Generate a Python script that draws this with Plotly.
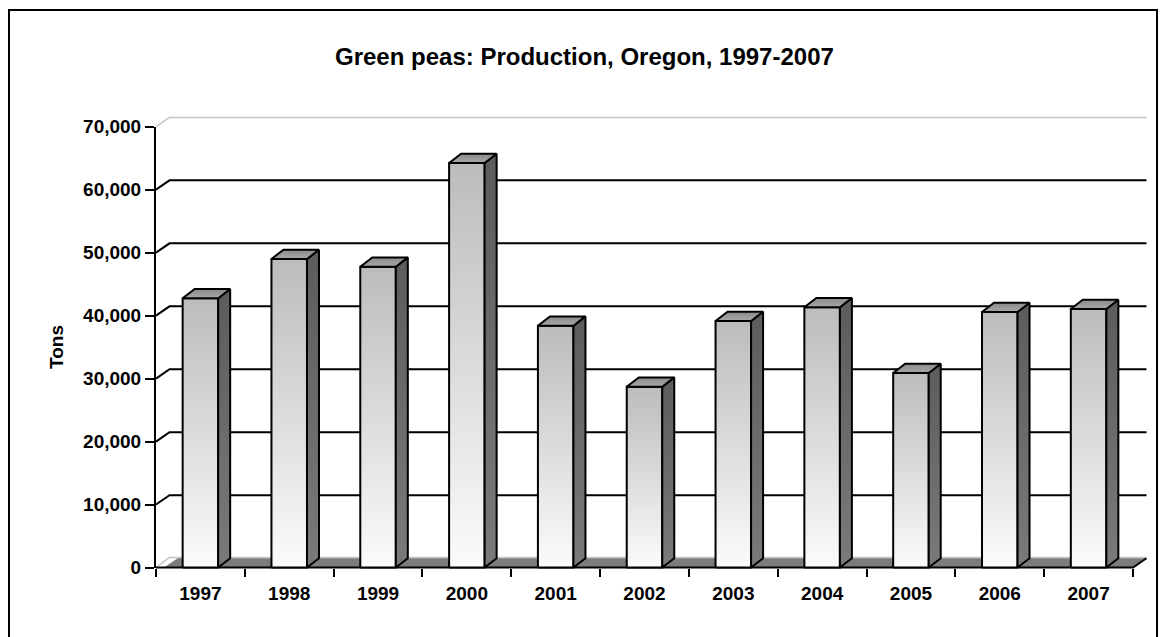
import plotly.graph_objects as go

# ---------------- data ----------------
years = ['1997', '1998', '1999', '2000', '2001', '2002', '2003', '2004', '2005', '2006', '2007']
tons = [42750, 48990, 47770, 64240, 38400, 28710, 39150, 41320, 30890, 40570, 41050]
y_tick_vals = [0, 10000, 20000, 30000, 40000, 50000, 60000, 70000]
y_tick_text = ['0', '10,000', '20,000', '30,000', '40,000', '50,000', '60,000', '70,000']
title_text = 'Green peas: Production, Oregon, 1997-2007'
y_title = 'Tons'

# ---------------- layout geometry (pixels) ----------------
W, H = 1163, 637
X0, X1 = 156, 1133          # front plane, left/right edge of category axis
Y0, YTOP = 567.5, 126.7     # front plane, pixel of 0 and of axis max
n = len(years)
ymax = y_tick_vals[-1]
kx = (X1 - X0) / n
ky = (Y0 - YTOP) / ymax

# depth offsets (3-D look), converted to data units
wdx, wdy = 13.5 / kx, 9.3 / ky     # walls / floor
bdx, bdy = 12.0 / kx, 9.3 / ky     # bars
half = 0.2                          # half bar width in category units

FONT = 'Liberation Sans, Arial, sans-serif'

fig = go.Figure()

# ---- back wall gridlines + left wall diagonals ----
gx, gy = [], []
for v in y_tick_vals[1:-1]:
    gx += [0, wdx, n + wdx, None]
    gy += [v, v + wdy, v + wdy, None]
fig.add_trace(go.Scatter(x=gx, y=gy, mode='lines', line=dict(color='black', width=2),
                         hoverinfo='skip', showlegend=False))
# top edge of the walls and back edge of the floor (light)
lx = [0, wdx, n + wdx, None, 0, wdx, n + wdx]
ly = [ymax, ymax + wdy, ymax + wdy, None, 0, wdy + 120, wdy + 120]
fig.add_trace(go.Scatter(x=lx, y=ly, mode='lines', line=dict(color='#c4c4c4', width=1.5),
                         hoverinfo='skip', showlegend=False))

# ---- floor ----
fig.add_trace(go.Scatter(x=[wdx * 0.6, n, n + wdx, wdx * 1.6, wdx * 0.6], y=[0, 0, wdy, wdy, 0],
                         mode='lines', fill='toself', fillcolor='#7c7c7c',
                         line=dict(width=0), hoverinfo='skip', showlegend=False))
fig.add_trace(go.Scatter(x=[0, n, n + wdx], y=[0, 0, wdy], mode='lines',
                         line=dict(color='black', width=2), hoverinfo='skip', showlegend=False))

# ---- bars ----
for i, v in enumerate(tons):
    xl, xr = i + 0.5 - half, i + 0.5 + half
    # front face
    fig.add_trace(go.Scatter(
        x=[xl, xr, xr, xl, xl], y=[0, 0, v, v, 0], mode='lines', fill='toself',
        fillgradient=dict(type='vertical', colorscale=[[0, '#fbfbfb'], [1, '#bcbcbc']]),
        line=dict(color='black', width=2), hoverinfo='skip', showlegend=False))
    # side face
    fig.add_trace(go.Scatter(
        x=[xr, xr + bdx, xr + bdx, xr, xr], y=[0, bdy, v + bdy, v, 0], mode='lines', fill='toself',
        fillgradient=dict(type='vertical', colorscale=[[0, '#7a7a7a'], [1, '#5c5c5c']]),
        line=dict(color='black', width=2), hoverinfo='skip', showlegend=False))
    # top face
    fig.add_trace(go.Scatter(
        x=[xl, xr, xr + bdx, xl + bdx, xl], y=[v, v, v + bdy, v + bdy, v], mode='lines', fill='toself',
        fillgradient=dict(type='vertical', colorscale=[[0, '#a8a8a8'], [1, '#8a8a8a']]),
        line=dict(color='black', width=2), hoverinfo='skip', showlegend=False))

# dummy trace to carry the visible (front) axes
fig.add_trace(go.Scatter(x=[0], y=[0], xaxis='x2', yaxis='y2', mode='markers',
                         marker=dict(opacity=0), hoverinfo='skip', showlegend=False))

# geometry axes (invisible, wider domain so nothing is clipped)
PX_L, PX_R, PX_T, PX_B = 140, 1160, 100, 585
fig.update_layout(
    xaxis=dict(domain=[PX_L / W, PX_R / W], range=[(PX_L - X0) / kx, (PX_R - X0) / kx],
               visible=False, anchor='y', fixedrange=True),
    yaxis=dict(domain=[1 - PX_B / H, 1 - PX_T / H], range=[(Y0 - PX_B) / ky, (Y0 - PX_T) / ky],
               visible=False, anchor='x', fixedrange=True),
    xaxis2=dict(domain=[X0 / W, X1 / W], range=[0, n], anchor='y2',
                tickmode='array', tickvals=[i + 0.5 for i in range(n)], ticktext=years,
                ticks='', showgrid=False, zeroline=False, showline=False,
                ticklabelstandoff=12,
                tickfont=dict(family=FONT, size=19, color='black', weight='bold'),
                minor=dict(tickmode='array', tickvals=list(range(n + 1)), ticks='outside',
                           ticklen=8, tickwidth=2, tickcolor='black', showgrid=False)),
    yaxis2=dict(domain=[1 - Y0 / H, 1 - YTOP / H], range=[0, ymax], anchor='x2',
                tickmode='array', tickvals=y_tick_vals, ticktext=y_tick_text,
                ticks='outside', ticklen=9, tickwidth=2, tickcolor='black',
                showline=True, linewidth=2, linecolor='black',
                showgrid=False, zeroline=False,
                tickfont=dict(family=FONT, size=19, color='black', weight='bold')),
)

fig.update_layout(
    width=W, height=H, template='none',
    margin=dict(l=0, r=0, t=0, b=0),
    paper_bgcolor='white', plot_bgcolor='rgba(0,0,0,0)',
    showlegend=False,
    annotations=[
        dict(text=title_text, x=584.5 / W, y=1 - 56 / H, xref='paper', yref='paper',
             xanchor='center', yanchor='middle', showarrow=False,
             font=dict(family=FONT, size=24, color='black', weight='bold')),
        dict(text=y_title, x=56 / W, y=1 - 347 / H, xref='paper', yref='paper',
             xanchor='center', yanchor='middle', textangle=-90, showarrow=False,
             font=dict(family=FONT, size=19, color='black', weight='bold')),
    ],
    shapes=[dict(type='rect', xref='paper', yref='paper', x0=9 / W, x1=1157 / W,
                 y0=-0.2, y1=1 - 10 / H, line=dict(color='black', width=2))],
)

fig.write_html('out.html', config={'displayModeBar': False},
               post_script="document.body.style.margin='0';document.body.style.overflow='hidden';")
